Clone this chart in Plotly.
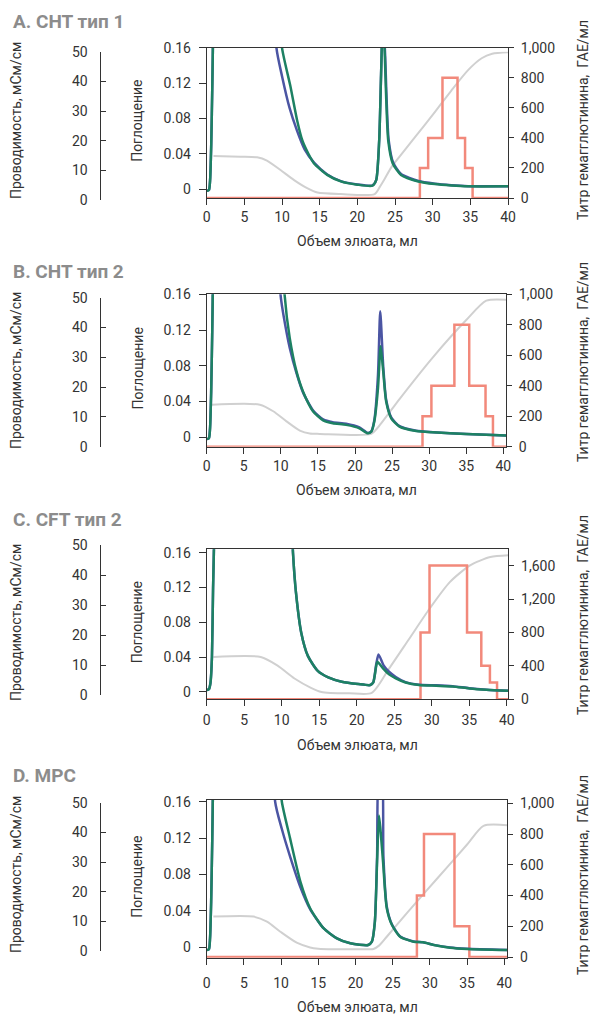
import plotly.graph_objects as go

W, H = 590, 1015

panel_titles = ["A. CHT тип 1", "B. CHT тип 2", "C. CFT тип 2", "D. MPC"]
x_title = "Объем элюата, мл"
cond_title = "Проводимость, мСм/см"
abs_title = "Поглощение"
titer_title = "Титр гемагглютинина,  ГАЕ/мл"

x_ticks = [0, 5, 10, 15, 20, 25, 30, 35, 40]
abs_ticks = [0, 0.04, 0.08, 0.12, 0.16]
abs_ticktext = ["0", "0.04", "0.08", "0.12", "0.16"]
cond_ticks = [0, 10, 20, 30, 40, 50]
titer_ticks_1000 = [0, 200, 400, 600, 800, 1000]
titer_ticks_1600 = [0, 400, 800, 1200, 1600]

# ---------------- Panel A ----------------
a_green_x = [0, 0.3, 0.45, 0.6, 0.75, 0.85, 1.2, 5, 9.0, 9.7, 10.0, 11.1, 12.0, 12.7, 13.5, 14.25, 16.0, 17.8, 20.0, 22.0,
             22.5, 22.9, 23.15, 23.4, 23.65, 23.8, 24.1, 24.7, 25.8, 28.1, 30.3, 32.5, 34.7, 40]
a_green_y = [-0.002, -0.001, 0.01, 0.05, 0.12, 0.18, 0.5, 0.9, 0.45, 0.22, 0.16, 0.117, 0.078, 0.055, 0.04, 0.029, 0.016, 0.0086, 0.0049, 0.0037,
             0.010, 0.055, 0.13, 0.2, 0.15, 0.11, 0.055, 0.029, 0.016, 0.0086, 0.0056, 0.004, 0.003, 0.003]
a_blue_x = [0, 0.3, 0.45, 0.6, 0.75, 0.85, 1.2, 5, 8.6, 9.26, 10.0, 11.0, 12.0, 13.0, 14.25, 16.0, 17.8, 20.0, 22.0,
            22.5, 22.9, 23.15, 23.4, 23.7, 23.85, 24.15, 24.75, 25.8, 28.1, 30.3, 32.5, 34.7, 40]
a_blue_y = [-0.002, -0.001, 0.01, 0.05, 0.12, 0.18, 0.5, 0.9, 0.4, 0.16, 0.128, 0.092, 0.066, 0.045, 0.03, 0.0165, 0.009, 0.0052, 0.004,
            0.010, 0.055, 0.13, 0.2, 0.15, 0.11, 0.056, 0.03, 0.017, 0.009, 0.006, 0.0043, 0.0032, 0.003]
a_cond_x = [0.9, 4.45, 6.7, 8.0, 9.8, 11.6, 13.4, 14.7, 17.8, 22.3, 23.0, 23.6, 24.5, 25.1, 27.6, 30.1, 32.5, 34.7, 36.5, 37.9, 40]
a_cond_y = [14.8, 14.6, 14.4, 13.3, 10.1, 6.7, 3.9, 2.5, 2.0, 2.0, 4.5, 7.0, 11.0, 13.0, 21.0, 29.0, 37.0, 43.8, 47.8, 49.3, 49.8]
a_titer_x = [0, 28.3, 29.4, 31.3, 33.3, 34.3, 35.3, 40]
a_titer_y = [0, 200, 400, 800, 400, 200, 0, 0]

# ---------------- Panel B ----------------
b_green_x = [0, 0.3, 0.45, 0.6, 0.75, 0.85, 1.2, 5, 9.5, 10.2, 10.5, 11.2, 12.1, 13.0, 14.35, 15.7, 17.0, 18.8, 20.6, 21.7,
             22.2, 22.6, 23.1, 23.45, 23.8, 24.2, 24.9, 26.0, 28.25, 30.5, 35.0, 40.4]
b_green_y = [-0.002, -0.001, 0.01, 0.05, 0.12, 0.18, 0.5, 0.9, 0.45, 0.22, 0.16, 0.111, 0.074, 0.051, 0.029, 0.019, 0.0157, 0.0139, 0.0101, 0.0045,
             0.0064, 0.0176, 0.055, 0.102, 0.074, 0.040, 0.021, 0.012, 0.0071, 0.0056, 0.0037, 0.0019]
b_blue_x = [0, 0.3, 0.45, 0.6, 0.75, 0.85, 1.2, 5, 9.3, 9.95, 10.6, 11.2, 12.1, 13.0, 14.35, 15.7, 17.0, 18.8, 20.6, 21.7,
            22.2, 22.6, 23.1, 23.4, 23.8, 24.2, 24.9, 26.0, 28.25, 30.5, 35.0, 40.4]
b_blue_y = [-0.002, -0.001, 0.01, 0.05, 0.12, 0.18, 0.5, 0.9, 0.4, 0.16, 0.125, 0.1, 0.072, 0.05, 0.03, 0.02, 0.0168, 0.0152, 0.011, 0.005,
            0.0066, 0.019, 0.07, 0.141, 0.08, 0.042, 0.022, 0.0125, 0.0073, 0.0057, 0.0038, 0.002]
b_cond_x = [0.67, 7.17, 8.97, 10.76, 12.56, 13.9, 15.25, 22.2, 23.0, 26.0, 30.5, 35.0, 37.7, 40.4]
b_cond_y = [14.1, 14.1, 11.9, 8.5, 5.4, 4.4, 4.3, 4.3, 6.2, 16.0, 30.0, 42.5, 49.0, 49.3]
b_titer_x = [0, 29.1, 30.3, 33.4, 35.4, 37.6, 38.6, 40.4]
b_titer_y = [0, 200, 400, 800, 400, 200, 0, 0]

# ---------------- Panel C ----------------
c_green_x = [0, 0.3, 0.5, 0.7, 0.85, 1.0, 1.3, 5, 10.5, 11.2, 11.5, 11.9, 12.6, 13.5, 14.8, 16.2, 18.0, 20.2, 21.8,
             22.2, 22.6, 22.75, 23.6, 24.3, 25.2, 26.5, 28.3, 30.6, 32.8, 35.0, 37.3, 40.2]
c_green_y = [0.002, 0.003, 0.01, 0.04, 0.12, 0.18, 0.5, 0.9, 0.5, 0.22, 0.16, 0.114, 0.068, 0.041, 0.024, 0.0165, 0.0115, 0.0088, 0.0077,
             0.0107, 0.030, 0.0345, 0.026, 0.020, 0.0155, 0.0107, 0.0077, 0.0069, 0.0061, 0.0038, 0.0023, 0.0011]
c_blue_x = [0, 0.3, 0.5, 0.7, 0.85, 1.0, 1.3, 5, 10.5, 11.2, 11.5, 11.9, 12.6, 13.5, 14.8, 16.2, 18.0, 20.2, 21.8,
            22.2, 22.6, 22.9, 23.6, 24.3, 25.2, 26.5, 28.3, 30.6, 32.8, 35.0, 37.3, 40.2]
c_blue_y = [0.002, 0.003, 0.01, 0.04, 0.12, 0.18, 0.5, 0.9, 0.5, 0.22, 0.16, 0.114, 0.068, 0.041, 0.024, 0.0165, 0.0115, 0.0088, 0.0077,
            0.0107, 0.032, 0.043, 0.030, 0.023, 0.017, 0.011, 0.008, 0.0075, 0.0064, 0.004, 0.0024, 0.0012]
c_cond_x = [0.9, 7.2, 9.4, 11.7, 13.9, 15.3, 16.5, 19.0, 22.0, 24.3, 27.0, 29.7, 32.4, 35.1, 37.8, 40.2]
c_cond_y = [12.7, 12.7, 9.9, 5.5, 2.4, 1.0, 0.7, 0.6, 0.7, 8.8, 18.8, 28.8, 37.7, 43.3, 46.1, 46.7]
c_titer_x = [0, 28.5, 29.7, 34.7, 36.6, 37.75, 38.7, 40.2]
c_titer_y = [0, 800, 1600, 800, 400, 200, 0, 0]

# ---------------- Panel D ----------------
d_green_x = [0, 0.3, 0.45, 0.6, 0.75, 0.85, 1.2, 5, 9.3, 9.8, 10.1, 11.2, 12.6, 13.9, 15.7, 17.5, 19.3, 21.7,
             22.2, 22.6, 22.9, 23.15, 23.35, 23.7, 24.2, 24.9, 26.0, 27.8, 29.1, 30.5, 32.7, 35.0, 40.4]
d_green_y = [-0.003, -0.002, 0.01, 0.05, 0.12, 0.18, 0.5, 0.9, 0.4, 0.2, 0.16, 0.12, 0.072, 0.043, 0.021, 0.0099, 0.0044, 0.0026,
             0.0062, 0.028, 0.094, 0.145, 0.13, 0.094, 0.043, 0.0245, 0.0117, 0.0062, 0.0055, 0.0026, -0.0004, -0.0018, -0.003]
d_blue_x = [0, 0.3, 0.45, 0.6, 0.75, 0.85, 1.2, 5, 8.6, 9.2, 10.1, 11.2, 12.6, 13.9, 15.7, 17.5, 19.3, 21.7,
            22.2, 22.6, 22.9, 23.2, 23.5, 23.75, 24.2, 24.9, 26.0, 27.8, 29.1, 30.5, 32.7, 35.0, 40.4]
d_blue_y = [-0.003, -0.002, 0.01, 0.05, 0.12, 0.18, 0.5, 0.9, 0.4, 0.16, 0.13, 0.1, 0.066, 0.042, 0.021, 0.0099, 0.0044, 0.0026,
            0.0062, 0.028, 0.1, 0.2, 0.2, 0.1, 0.045, 0.025, 0.012, 0.0063, 0.0056, 0.0027, -0.0003, -0.0017, -0.003]
d_cond_x = [0.9, 6.3, 8.1, 9.9, 12.1, 13.9, 15.0, 17.0, 20.0, 22.4, 23.2, 24.2, 26.9, 29.6, 32.3, 35.0, 37.2, 40.4]
d_cond_y = [11.6, 11.6, 9.9, 6.5, 2.8, 1.2, 0.8, 0.6, 0.6, 0.7, 1.9, 4.8, 12.8, 20.5, 28.2, 35.9, 42.2, 42.4]
d_titer_x = [0, 28.25, 29.2, 33.3, 35.3, 40.4]
d_titer_y = [0, 400, 800, 200, 0, 0]

panels_data = [
    (a_green_x, a_green_y, a_blue_x, a_blue_y, a_cond_x, a_cond_y, a_titer_x, a_titer_y, titer_ticks_1000),
    (b_green_x, b_green_y, b_blue_x, b_blue_y, b_cond_x, b_cond_y, b_titer_x, b_titer_y, titer_ticks_1000),
    (c_green_x, c_green_y, c_blue_x, c_blue_y, c_cond_x, c_cond_y, c_titer_x, c_titer_y, titer_ticks_1600),
    (d_green_x, d_green_y, d_blue_x, d_blue_y, d_cond_x, d_cond_y, d_titer_x, d_titer_y, titer_ticks_1000),
]

# geometry in pixels (layout only)
geom = [
    dict(top=47.7, bot=198.0, left=206.7, right=508.0, xmax=40.0, abs_rng=[-0.0102, 0.1603], tit_rng=[0, 1000],
         ctop=51.7, cbot=200.0, ty=21.5, xty=241, yty=120, rty=120, xstand=0),
    dict(top=294.3, bot=446.7, left=206.7, right=506.0, xmax=40.36, abs_rng=[-0.0105, 0.16], tit_rng=[0, 1000],
         ctop=297.7, cbot=446.7, ty=271.5, xty=490, yty=370, rty=362, xstand=0),
    dict(top=549.3, bot=699.3, left=206.7, right=508.3, xmax=40.2, abs_rng=[-0.0087, 0.164], tit_rng=[0, 1795],
         ctop=545.3, cbot=695.0, ty=519, xty=745, yty=622, rty=615, xstand=2),
    dict(top=800.0, bot=957.7, left=206.7, right=507.3, xmax=40.4, abs_rng=[-0.0114, 0.1619], tit_rng=[-4, 1021],
         ctop=802.7, cbot=951.0, ty=775, xty=1007, yty=874, rty=875, xstand=6),
]

GREEN = "#1d8163"
BLUE = "#4b55a3"
GRAY = "#d0d0d0"
RED = "#f2897b"
AX = "#333333"
FONT = "Roboto"

def fx(px):
    return px / W

def fy(py):
    return 1 - py / H

layout = dict(
    template="none",
    width=W, height=H, autosize=False,
    margin=dict(l=0, r=0, t=0, b=0, pad=0),
    paper_bgcolor="white", plot_bgcolor="rgba(0,0,0,0)",
    showlegend=False,
    font=dict(family=FONT, size=14, color=AX),
    annotations=[],
)

fig = go.Figure()

for p, (gx, gy, bx, by, cx, cy, tx, ty_, tticks) in enumerate(panels_data):
    g = geom[p]
    xn = p + 1
    yc = 3 * p + 1   # conductivity (own domain)
    yt = 3 * p + 2   # titer (base of plot area)
    ya = 3 * p + 3   # absorbance (overlaying titer)
    xs = "" if xn == 1 else str(xn)
    xid = "x" + xs
    ycs = "" if yc == 1 else str(yc)

    fig.add_trace(go.Scatter(x=cx, y=cy, xaxis=xid, yaxis="y" + ycs, mode="lines",
                             line=dict(color=GRAY, width=2, shape="spline", smoothing=0.7), hoverinfo="skip"))
    fig.add_trace(go.Scatter(x=tx, y=ty_, xaxis=xid, yaxis="y" + str(yt), mode="lines",
                             line=dict(color=RED, width=2.5, shape="hv"), hoverinfo="skip"))
    fig.add_trace(go.Scatter(x=bx, y=by, xaxis=xid, yaxis="y" + str(ya), mode="lines",
                             line=dict(color=BLUE, width=2.5, shape="spline", smoothing=0.6), hoverinfo="skip"))
    fig.add_trace(go.Scatter(x=gx, y=gy, xaxis=xid, yaxis="y" + str(ya), mode="lines",
                             line=dict(color=GREEN, width=2.5, shape="spline", smoothing=0.6), hoverinfo="skip"))

    plot_dom_y = [fy(g["bot"]), fy(g["top"])]
    common = dict(showgrid=False, zeroline=False, automargin=False, tickcolor=AX, showline=True,
                  linecolor=AX, linewidth=1, tickfont=dict(family=FONT, size=14, color=AX))
    layout["xaxis" + xs] = dict(
        domain=[fx(g["left"]), fx(g["right"])], range=[0, g["xmax"]], anchor="y" + str(yt),
        tickvals=x_ticks, ticks="outside", ticklen=6, mirror=True, ticklabelstandoff=g["xstand"], **common)
    layout["yaxis" + ycs] = dict(
        domain=[fy(g["cbot"]), fy(g["ctop"])], range=[0, 50], anchor="free", position=fx(99.5), side="left",
        tickvals=cond_ticks, ticks="inside", ticklen=5, ticklabelstandoff=9, **common)
    layout["yaxis" + str(yt)] = dict(
        domain=plot_dom_y, range=g["tit_rng"], anchor=xid, side="right",
        tickvals=tticks, tickformat=",", ticks="outside", ticklen=5, ticklabelstandoff=4, **common)
    layout["yaxis" + str(ya)] = dict(
        overlaying="y" + str(yt), range=g["abs_rng"], anchor=xid, side="left",
        tickvals=abs_ticks, ticktext=abs_ticktext, ticks="outside", ticklen=7, ticklabelstandoff=5, **common)

    ann = layout["annotations"]
    ann.append(dict(text=panel_titles[p], xref="paper", yref="paper", x=fx(11), y=fy(g["ty"]),
                    xanchor="left", yanchor="middle", showarrow=False,
                    font=dict(family=FONT, size=19, color="#8c8c8c", weight="bold")))
    ann.append(dict(text=x_title, xref="paper", yref="paper", x=fx((g["left"] + g["right"]) / 2), y=fy(g["xty"]),
                    xanchor="center", yanchor="middle", showarrow=False, font=dict(family=FONT, size=14, color=AX)))
    ann.append(dict(text=cond_title, xref="paper", yref="paper", x=fx(16), y=fy(g["yty"]), textangle=-90,
                    xanchor="center", yanchor="middle", showarrow=False, font=dict(family=FONT, size=14, color=AX)))
    ann.append(dict(text=abs_title, xref="paper", yref="paper", x=fx(137), y=fy((g["top"] + g["bot"]) / 2 - 2),
                    textangle=-90, xanchor="center", yanchor="middle", showarrow=False,
                    font=dict(family=FONT, size=14, color=AX)))
    ann.append(dict(text=titer_title, xref="paper", yref="paper", x=fx(583), y=fy(g["rty"]), textangle=-90,
                    xanchor="center", yanchor="middle", showarrow=False, font=dict(family=FONT, size=14, color=AX)))

fig.update_layout(**layout)
fig.write_html("out.html", config={"displayModeBar": False},
               post_script="document.body.style.margin='0';")
